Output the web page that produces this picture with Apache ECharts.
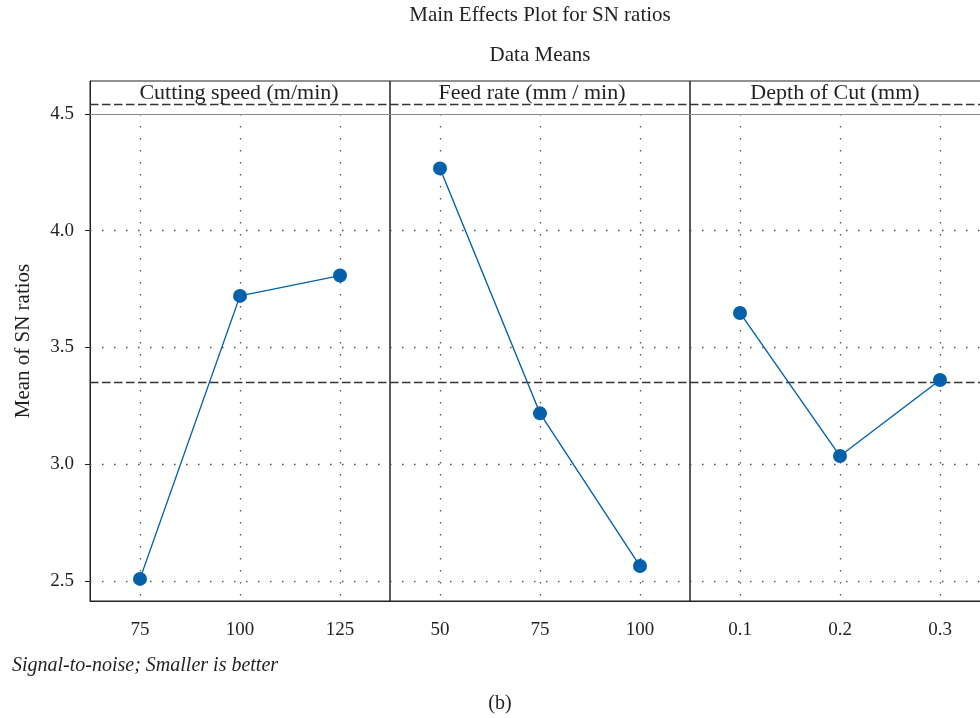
<!DOCTYPE html>
<html>
<head>
<meta charset="utf-8">
<script src="https://cdn.jsdelivr.net/npm/echarts@6/dist/echarts.min.js"></script>
<style>
  html, body { margin: 0; padding: 0; background: #fff; }
  #chart { width: 980px; height: 718px; }
</style>
</head>
<body>
<div id="chart"></div>
<script>
// ---- data ----
const panelTitles = ['Cutting speed (m/min)', 'Feed rate (mm / min)', 'Depth of Cut (mm)'];
const speedLabels = ['75', '100', '125'];
const speedSN = [2.509, 3.721, 3.808];
const feedLabels = ['50', '75', '100'];
const feedSN = [4.267, 3.218, 2.564];
const depthLabels = ['0.1', '0.2', '0.3'];
const depthSN = [3.648, 3.035, 3.361];
const yTicks = [2.5, 3.0, 3.5, 4.0, 4.5];
const Y_MIN = 2.4143;
const Y_MAX = 4.6413;
const HEADER_REF = 4.5385;

const panelLabels = [speedLabels, feedLabels, depthLabels];
const panelValues = [speedSN, feedSN, depthSN];
const allVals = [].concat(speedSN, feedSN, depthSN);
const grandMean = allVals.reduce((a, b) => a + b, 0) / allVals.length;

const FONT = 'Liberation Serif';
const TXT = '#231f20';
const BLUE = '#0561ab';
const dotted = { type: [1.5, 10.5], color: '#555', width: 1.3 };
const dashed = { type: [8.5, 3.5], color: '#333', width: 1.3 };

const PANEL_LEFT = 90, PANEL_W = 300, GRID_TOP = 81, GRID_BOTTOM = 117, CANVAS_W = 980;
const headerCenters = [239, 532, 835];

const grids = [], xAxes = [], yAxes = [], series = [];
panelLabels.forEach((labels, i) => {
  const left = PANEL_LEFT + i * PANEL_W;
  grids.push({
    left: left, right: CANVAS_W - left - PANEL_W, top: GRID_TOP, bottom: GRID_BOTTOM,
    outerBoundsMode: 'none', containLabel: false,
    show: true, borderColor: '#222', borderWidth: 1, backgroundColor: 'transparent'
  });
  xAxes.push({
    gridIndex: i, type: 'category', data: labels, boundaryGap: true,
    axisLine: { lineStyle: { color: '#222', width: 1 } },
    axisTick: { alignWithLabel: true, length: 5, lineStyle: { color: '#222' } },
    axisLabel: { fontFamily: FONT, fontSize: 19, color: TXT, margin: 20 },
    splitLine: { show: false }
  });
  const y = {
    gridIndex: i, type: 'value', min: Y_MIN, max: Y_MAX,
    splitLine: { show: false },
    axisLine: { show: i === 0, lineStyle: { color: '#222', width: 1 } },
    axisTick: { show: i === 0, customValues: yTicks, length: 5, lineStyle: { color: '#222' } },
    axisLabel: {
      show: i === 0, customValues: yTicks, fontFamily: FONT, fontSize: 19, color: TXT, margin: 16,
      formatter: v => Number(v).toFixed(1)
    }
  };
  if (i === 0) {
    y.name = 'Mean of SN ratios';
    y.nameLocation = 'middle';
    y.nameGap = 56;
    y.nameTextStyle = { fontFamily: FONT, fontSize: 21, color: TXT };
  }
  yAxes.push(y);

  const mlData = [];
  yTicks.forEach(v => {
    if (v < 4.5) mlData.push({ yAxis: v, lineStyle: dotted });
  });
  labels.forEach((_, k) => {
    mlData.push([{ coord: [k, 4.5], lineStyle: dotted }, { coord: [k, Y_MIN] }]);
  });
  mlData.push({ yAxis: 4.5, lineStyle: { type: 'solid', color: '#8a8a8a', width: 1.2 } });
  mlData.push({ yAxis: grandMean, lineStyle: dashed });
  mlData.push({ yAxis: HEADER_REF, lineStyle: dashed });

  series.push({
    type: 'line', xAxisIndex: i, yAxisIndex: i, data: panelValues[i],
    symbol: 'circle', symbolSize: 14, z: 5,
    itemStyle: { color: BLUE },
    lineStyle: { color: BLUE, width: 1.4 },
    markLine: {
      silent: true, symbol: ['none', 'none'], label: { show: false },
      animation: false, data: mlData
    }
  });
});

const titleText = (text, left, top, size) => ({
  text, left, top, textAlign: 'center', padding: 0,
  textStyle: { fontFamily: FONT, fontSize: size, fontWeight: 'normal', color: TXT }
});

const titles = [
  titleText('Main Effects Plot for SN ratios', 540, 5, 21),
  titleText('Data Means', 540, 45, 21),
  titleText('(b)', 500, 694, 20)
];
panelTitles.forEach((t, i) => titles.push(titleText(t, headerCenters[i], 82, 22)));
titles.push({
  text: 'Signal-to-noise; Smaller is better', left: 12, top: 656, padding: 0,
  textStyle: { fontFamily: FONT, fontSize: 20, fontWeight: 'normal', fontStyle: 'italic', color: TXT }
});

const chart = echarts.init(document.getElementById('chart'));
chart.setOption({
  animation: false,
  backgroundColor: '#fff',
  title: titles,
  grid: grids,
  xAxis: xAxes,
  yAxis: yAxes,
  series: series
});
</script>
</body>
</html>
